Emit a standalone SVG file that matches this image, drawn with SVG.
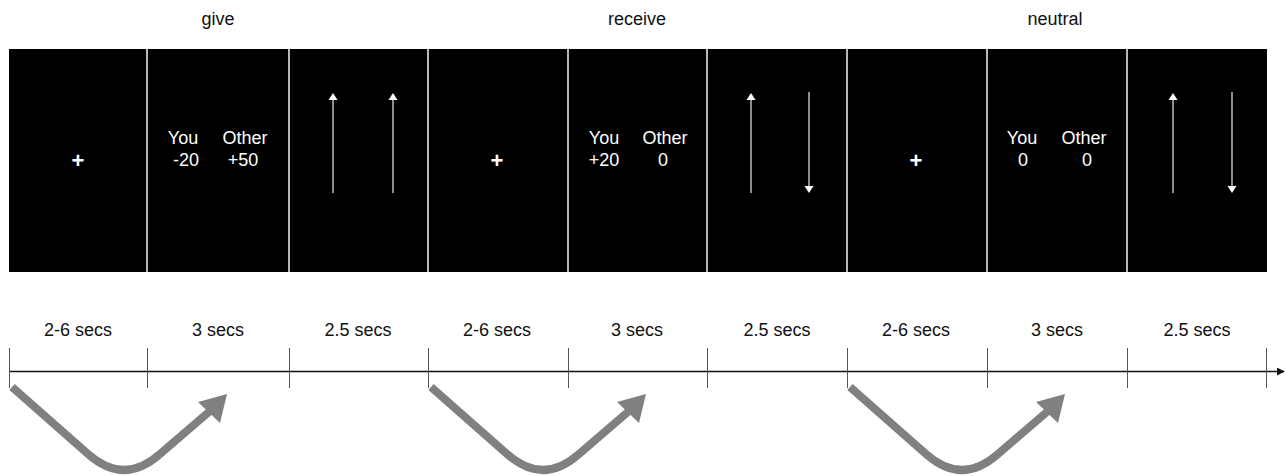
<svg xmlns="http://www.w3.org/2000/svg" width="1286" height="476" viewBox="0 0 1286 476">
<defs>
<style>
.t{font-family:"Liberation Sans",Arial,sans-serif;font-size:18px;text-anchor:middle}
.k{fill:#111}
.w{fill:#fff}
.plus{font-size:22px;font-weight:bold}
.div{stroke:#e6e6e6;stroke-width:1.6}
.pa{stroke:#b0b0b0;stroke-width:1.6;fill:none}
.tick{stroke:#555;stroke-width:1}
.curve{stroke:#808080;stroke-width:8;fill:none;stroke-linejoin:round}
</style>
<marker id="ah" viewBox="0 0 10 10" refX="9" refY="5" markerWidth="8" markerHeight="8" markerUnits="userSpaceOnUse" orient="auto">
<path d="M0,0 L10,5 L0,10 z" fill="#111"/>
</marker>
<g id="upArrow">
<line class="pa" x1="0" y1="100" x2="0" y2="6"/>
<path d="M-4.5,7 L0,0 L4.5,7 z" fill="#fff"/>
</g>
<g id="downArrow">
<line class="pa" x1="0" y1="0" x2="0" y2="94"/>
<path d="M-4.5,94 L0,101 L4.5,94 z" fill="#fff"/>
</g>
<g id="bigArrow">
<path class="curve" d="M12,387 L88,454 Q124,486 160,454 L210,411"/>
<path d="M227,394 L198,402 L220,423 z" fill="#808080"/>
</g>
</defs>
<rect width="1286" height="476" fill="#fff"/>

<g id="titles">
<text class="t k" x="218" y="25">give</text>
<text class="t k" x="637" y="25">receive</text>
<text class="t k" x="1055" y="25">neutral</text>
</g>

<g id="screens">
<rect x="9" y="49" width="1258" height="223" fill="#000"/>
<g id="dividers">
<line class="div" x1="147" y1="49" x2="147" y2="272"/>
<line class="div" x1="289" y1="49" x2="289" y2="272"/>
<line class="div" x1="428" y1="49" x2="428" y2="272"/>
<line class="div" x1="568" y1="49" x2="568" y2="272"/>
<line class="div" x1="707" y1="49" x2="707" y2="272"/>
<line class="div" x1="847" y1="49" x2="847" y2="272"/>
<line class="div" x1="987" y1="49" x2="987" y2="272"/>
<line class="div" x1="1127" y1="49" x2="1127" y2="272"/>
</g>
</g>

<g id="give-fix"><text class="t w plus" x="78" y="168">+</text></g>
<g id="give-outcome">
<text class="t w" x="183" y="144">You</text>
<text class="t w" x="245" y="144">Other</text>
<text class="t w" x="186" y="166">-20</text>
<text class="t w" x="243" y="166">+50</text>
</g>
<g id="give-choice">
<use href="#upArrow" x="333" y="93"/>
<use href="#upArrow" x="393" y="93"/>
</g>

<g id="receive-fix"><text class="t w plus" x="497" y="168">+</text></g>
<g id="receive-outcome">
<text class="t w" x="604" y="144">You</text>
<text class="t w" x="665" y="144">Other</text>
<text class="t w" x="604" y="166">+20</text>
<text class="t w" x="663" y="166">0</text>
</g>
<g id="receive-choice">
<use href="#upArrow" x="751" y="93"/>
<use href="#downArrow" x="809" y="92"/>
</g>

<g id="neutral-fix"><text class="t w plus" x="916" y="168">+</text></g>
<g id="neutral-outcome">
<text class="t w" x="1022" y="144">You</text>
<text class="t w" x="1084" y="144">Other</text>
<text class="t w" x="1023" y="166">0</text>
<text class="t w" x="1087" y="166">0</text>
</g>
<g id="neutral-choice">
<use href="#upArrow" x="1173" y="93"/>
<use href="#downArrow" x="1232" y="92"/>
</g>

<g id="durations">
<text class="t k" x="78" y="336">2-6 secs</text>
<text class="t k" x="218" y="336">3 secs</text>
<text class="t k" x="358" y="336">2.5 secs</text>
<text class="t k" x="497" y="336">2-6 secs</text>
<text class="t k" x="637" y="336">3 secs</text>
<text class="t k" x="777" y="336">2.5 secs</text>
<text class="t k" x="916" y="336">2-6 secs</text>
<text class="t k" x="1057" y="336">3 secs</text>
<text class="t k" x="1197" y="336">2.5 secs</text>
</g>

<g id="connectors">
<line x1="9" y1="371.5" x2="1284" y2="371.5" stroke="#111" stroke-width="1.6" marker-end="url(#ah)"/>
<g id="ticks">
<line class="tick" x1="9.5" y1="348" x2="9.5" y2="388"/>
<line class="tick" x1="147.5" y1="348" x2="147.5" y2="388"/>
<line class="tick" x1="289.5" y1="348" x2="289.5" y2="388"/>
<line class="tick" x1="428.5" y1="348" x2="428.5" y2="388"/>
<line class="tick" x1="568.5" y1="348" x2="568.5" y2="388"/>
<line class="tick" x1="707.5" y1="348" x2="707.5" y2="388"/>
<line class="tick" x1="847.5" y1="348" x2="847.5" y2="388"/>
<line class="tick" x1="987.5" y1="348" x2="987.5" y2="388"/>
<line class="tick" x1="1127.5" y1="348" x2="1127.5" y2="388"/>
<line class="tick" x1="1266.5" y1="348" x2="1266.5" y2="388"/>
</g>
<use href="#bigArrow" x="0" y="0"/>
<use href="#bigArrow" x="419" y="0"/>
<use href="#bigArrow" x="838" y="0"/>
</g>
</svg>
